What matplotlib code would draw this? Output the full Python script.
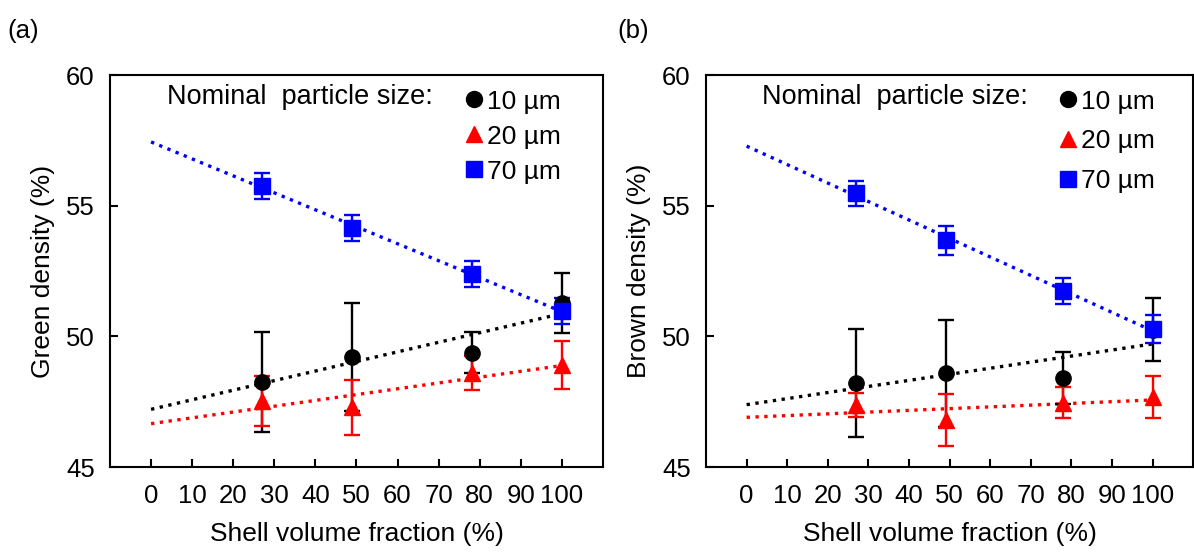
import numpy as np
import matplotlib
matplotlib.use('Agg')
import matplotlib.pyplot as plt
from matplotlib.lines import Line2D

plt.rcParams['font.family'] = ['Liberation Sans', 'DejaVu Sans']

shell = [27, 49, 78, 100]
sizes = ['10 µm', '20 µm', '70 µm']

# green density (a)
green_10 = [48.26, 49.21, 49.38, 51.29]
green_10_err = [1.9, 2.08, 0.8, 1.15]
green_20 = [47.53, 47.28, 48.59, 48.89]
green_20_err = [0.95, 1.05, 0.65, 0.92]
green_70 = [55.76, 54.15, 52.39, 50.97]
green_70_err = [0.5, 0.5, 0.5, 0.5]

# brown density (b)
brown_10 = [48.21, 48.59, 48.40, 50.25]
brown_10_err = [2.07, 2.05, 1.0, 1.2]
brown_20 = [47.37, 46.80, 47.46, 47.67]
brown_20_err = [0.47, 1.01, 0.6, 0.8]
brown_70 = [55.48, 53.68, 51.73, 50.28]
brown_70_err = [0.48, 0.55, 0.5, 0.53]

colors = ['black', 'red', 'blue']
markers = ['o', '^', 's']

fig = plt.figure(figsize=(11.94, 5.56), dpi=100)
ax1 = fig.add_axes([0.0921, 0.160, 0.4129, 0.705])
ax2 = fig.add_axes([0.5913, 0.160, 0.408, 0.705])


def draw(ax, series, errs, ylabel, leg_x, leg_space):
    x = np.array(shell)
    xx = np.array([0, 100])
    handles = []
    for y, e, c, m, lab in zip(series, errs, colors, markers, sizes):
        p = np.polyfit(x, y, 1)
        ax.plot(xx, np.polyval(p, xx), linestyle=':', color=c, lw=2.4, zorder=1)
        ax.errorbar(x, y, yerr=e, fmt=m, color=c, ms=11, elinewidth=1.7,
                    capsize=5.5, capthick=1.7, zorder=3)
        handles.append(Line2D([], [], ls='none', marker=m, color=c, ms=11.5, label=lab))
    ax.set_xlim(-10, 110)
    ax.set_ylim(45, 60)
    ax.set_xticks(range(0, 101, 10))
    ax.set_yticks([45, 50, 55, 60])
    ax.tick_params(direction='in', length=6, width=1.5, labelsize=18.5, pad=12)
    ax.tick_params(axis='y', pad=11)
    for s in ax.spines.values():
        s.set_linewidth(1.5)
    ax.set_xlabel('Shell volume fraction (%)', fontsize=19, labelpad=10)
    ax.set_ylabel(ylabel, fontsize=19, labelpad=8)
    ax.text(0.115, 0.945, 'Nominal  particle size:', transform=ax.transAxes,
            fontsize=19.5, va='center', ha='left')
    ax.legend(handles=handles, loc='upper left', bbox_to_anchor=(leg_x, 0.99),
              frameon=False, fontsize=19, handlelength=0.6, handletextpad=0.2,
              labelspacing=leg_space, borderaxespad=0)
    return ax


draw(ax1, [green_10, green_20, green_70], [green_10_err, green_20_err, green_70_err],
     'Green density (%)', 0.70, 0.42)
draw(ax2, [brown_10, brown_20, brown_70], [brown_10_err, brown_20_err, brown_70_err],
     'Brown density (%)', 0.705, 0.6)

fig.text(0.006, 0.945, '(a)', fontsize=18.5, va='center')
fig.text(0.517, 0.945, '(b)', fontsize=18.5, va='center')

fig.savefig('out.png', dpi=100)
